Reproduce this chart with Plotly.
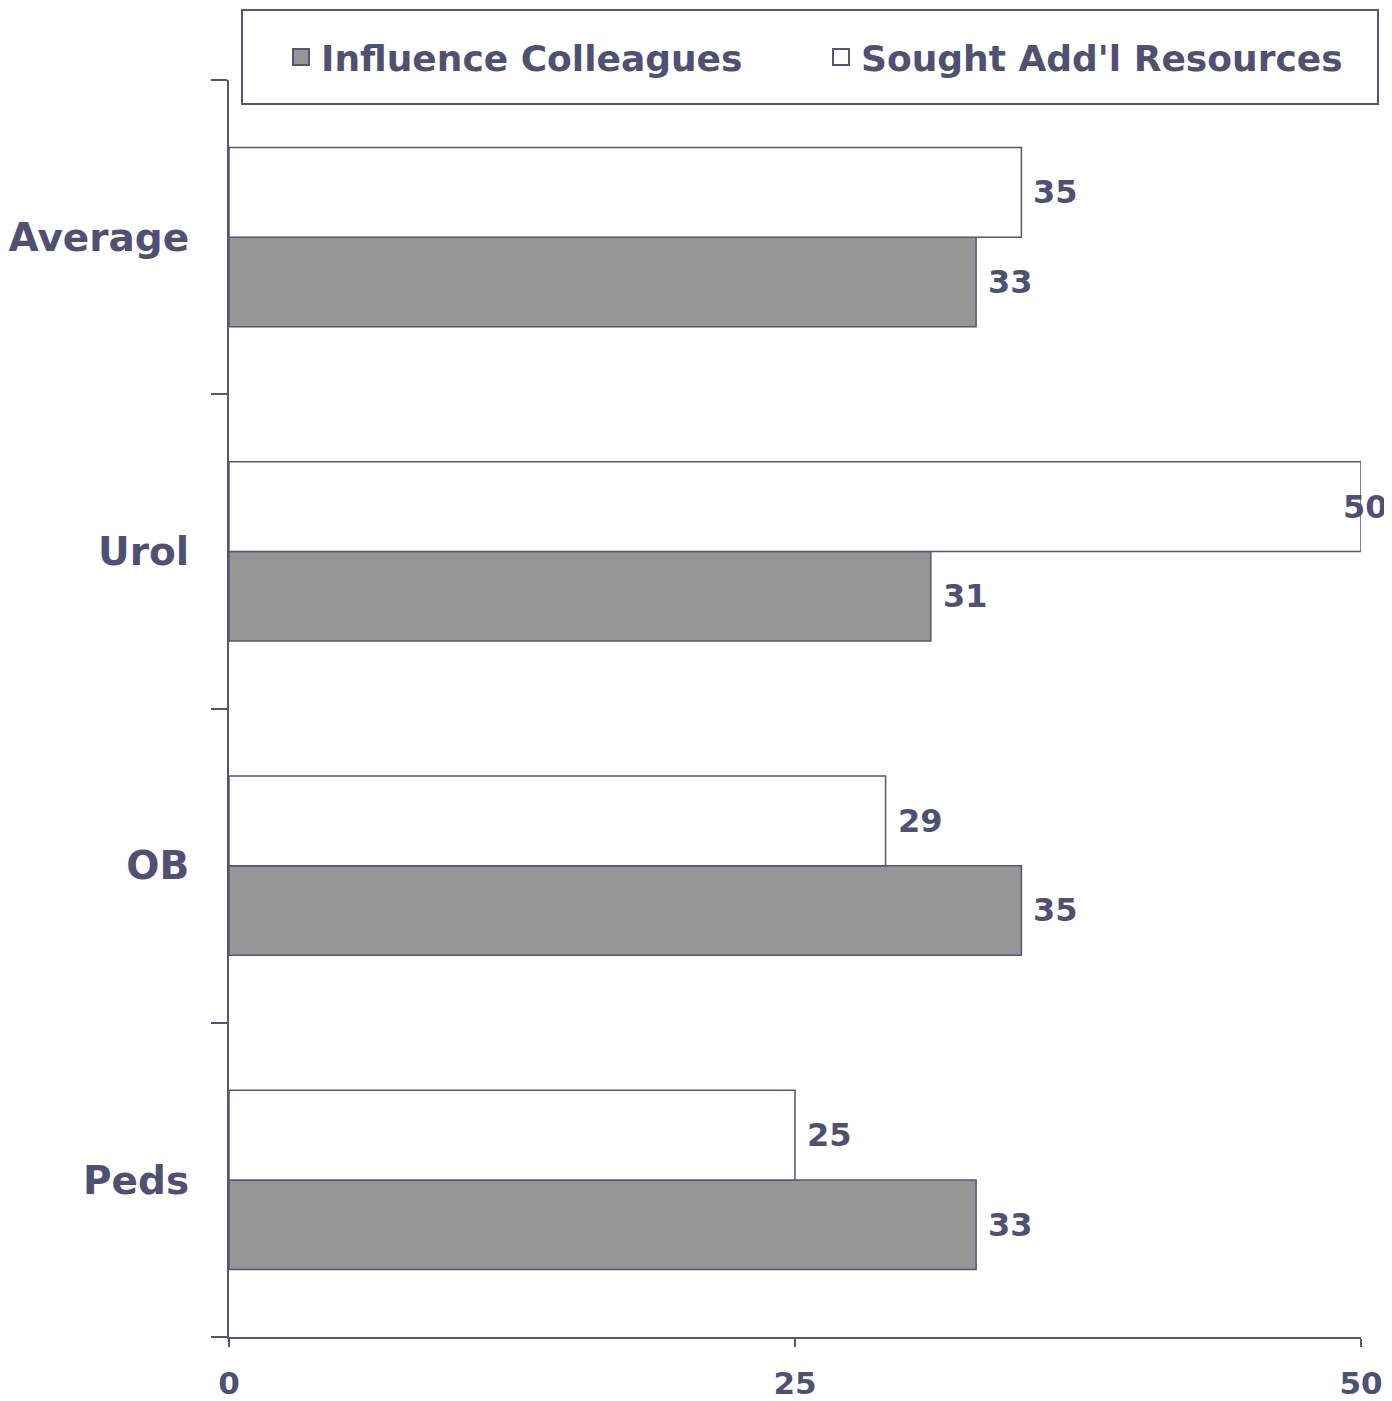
import plotly.graph_objects as go

categories = ["Average", "Urol", "OB", "Peds"]
influence = [33, 31, 35, 33]
sought = [35, 50, 29, 25]
x_ticks = [0, 25, 50]
series_names = ["Influence Colleagues", "Sought Add'l Resources"]
series_colors = ["#969696", "#ffffff"]

TXT = "#505072"
LINE = "#55557a"
FONT = "DejaVu Sans"
BARGAP = 0.43
XMAX = 50
PAGE_OFF = 8  # default body margin of the html page
W, H = 1392 - PAGE_OFF, 1401 - PAGE_OFF
ML, MT = 229 - PAGE_OFF, 80 - PAGE_OFF
MR, MB = 1392 - 1361, 1401 - 1337
PW, PH = W - ML - MR, H - MT - MB


def px_x(px):
    return (px - PAGE_OFF - ML) / PW


def px_y(py):
    return (MT + PH - (py - PAGE_OFF)) / PH


fig = go.Figure()
for vals, name, col in [(influence, series_names[0], series_colors[0]),
                        (sought, series_names[1], series_colors[1])]:
    fig.add_trace(go.Bar(
        y=categories, x=vals, name=name, orientation="h", showlegend=False,
        marker=dict(color=col, line=dict(color=LINE, width=1.5)),
    ))
# legend proxies (square markers)
for name, col in zip(series_names, series_colors):
    fig.add_trace(go.Scatter(
        x=[None], y=[None], mode="markers", name=name,
        marker=dict(symbol="square", size=16, color=col,
                    line=dict(color=LINE, width=2)),
    ))

# value labels
order = categories[::-1]
off = (1 - BARGAP) / 4
for vals, sgn in [(influence, -1), (sought, 1)]:
    for cat, v in zip(categories, vals):
        idx = order.index(cat)
        if v >= XMAX:
            anc, xs = "center", 4
        else:
            anc, xs = "left", 10
        fig.add_annotation(
            x=v, y=idx + sgn * off, xref="x", yref="y", text=str(v),
            showarrow=False, xanchor=anc, xshift=xs, yanchor="middle",
            font=dict(family=FONT, size=32, color=TXT, weight="bold"),
        )

# legend frame
fig.add_shape(type="rect", xref="paper", yref="paper",
              x0=px_x(242), x1=px_x(1378), y0=px_y(104), y1=px_y(10),
              line=dict(color=LINE, width=2), fillcolor="white", layer="below")

fig.update_layout(
    width=W, height=H,
    margin=dict(l=ML, r=MR, t=MT, b=MB, autoexpand=False),
    paper_bgcolor="white", plot_bgcolor="white",
    barmode="group", bargap=BARGAP, bargroupgap=0,
    font=dict(family=FONT, color=TXT, weight="bold"),
    showlegend=True,
    legend=dict(
        orientation="h", x=px_x(281), y=px_y(57), xanchor="left", yanchor="middle",
        borderwidth=0, bgcolor="rgba(0,0,0,0)",
        font=dict(family=FONT, size=36, color=TXT, weight="bold"),
        entrywidth=495, entrywidthmode="pixels", traceorder="normal",
    ),
    xaxis=dict(
        range=[0, XMAX], tickvals=x_ticks, ticktext=[str(t) for t in x_ticks],
        showline=True, linecolor=LINE, linewidth=2,
        ticks="outside", ticklen=8, tickcolor=LINE, tickwidth=2,
        showgrid=False, zeroline=False, automargin=False,
        tickfont=dict(family=FONT, size=31, color=TXT, weight="bold"),
        ticklabelstandoff=10,
    ),
    yaxis=dict(
        categoryorder="array", categoryarray=order,
        showline=True, linecolor=LINE, linewidth=2,
        ticks="outside", ticklen=16, tickcolor=LINE, tickwidth=2,
        tickson="boundaries", showgrid=False, automargin=False,
        tickfont=dict(family=FONT, size=39, color=TXT, weight="bold"),
        ticklabelstandoff=30,
    ),
)

fig.write_html("out.html")
